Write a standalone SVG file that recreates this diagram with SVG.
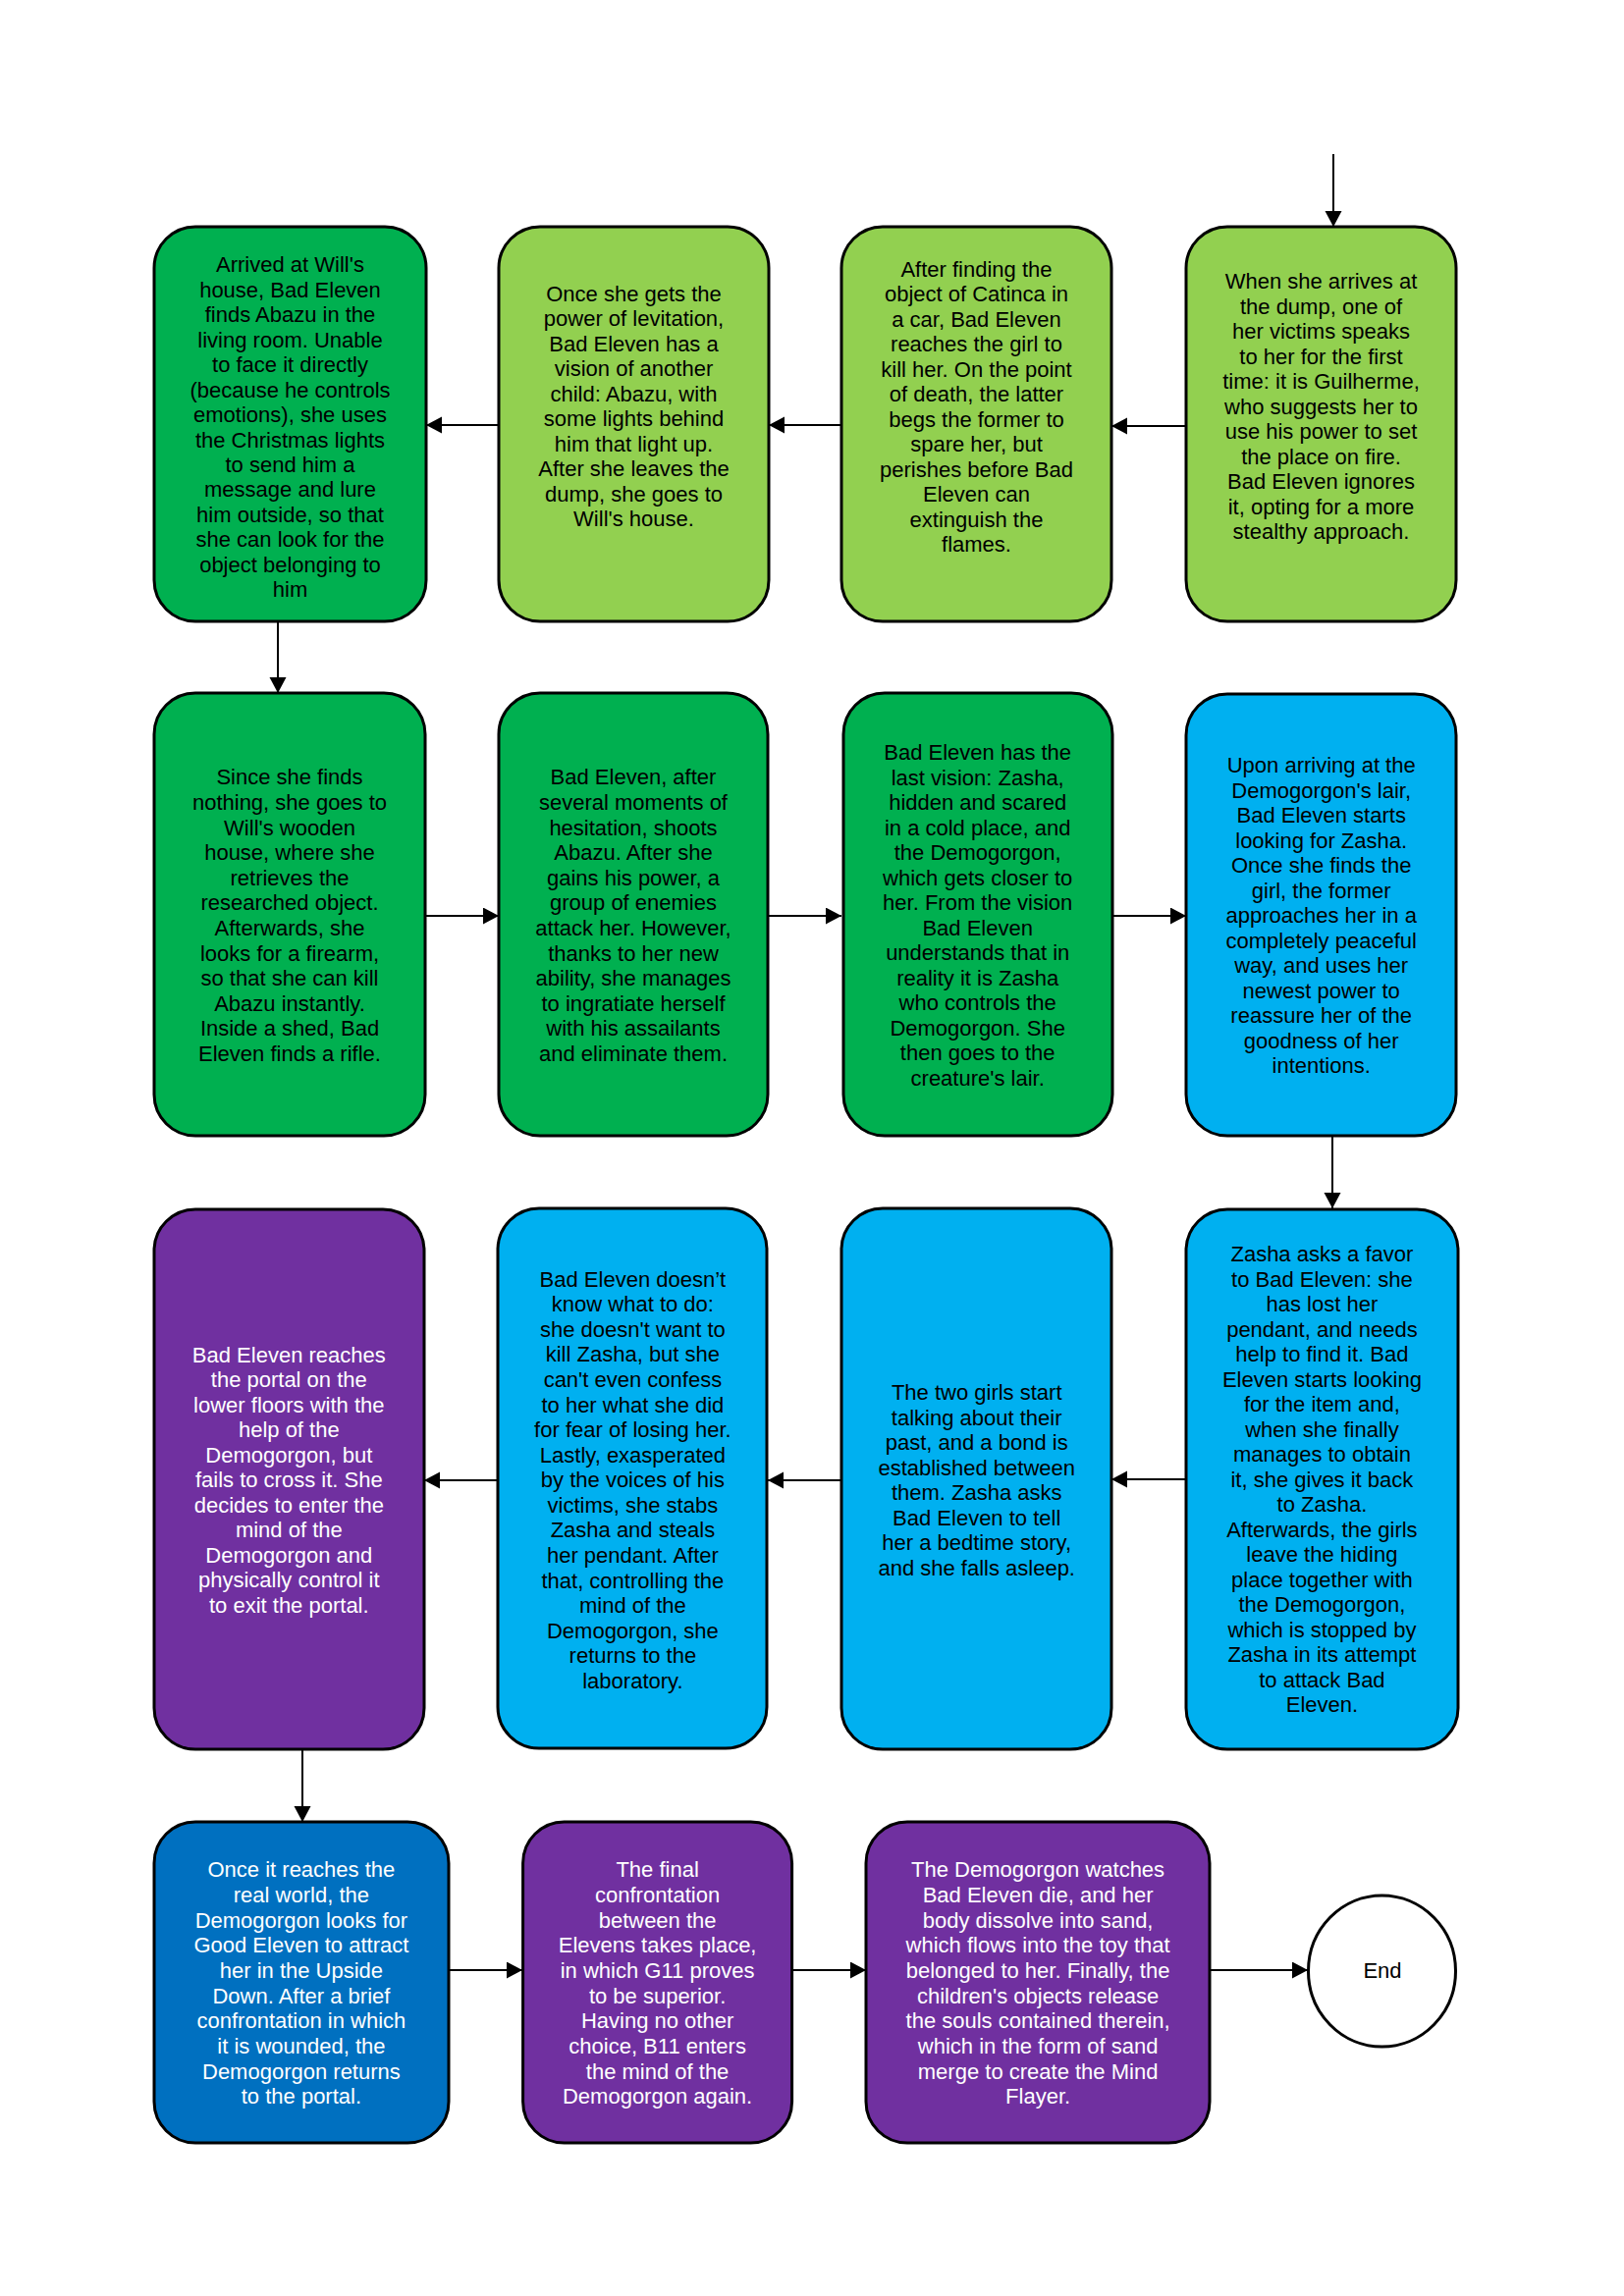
<svg xmlns="http://www.w3.org/2000/svg" width="1654" height="2339" viewBox="0 0 1654 2339">
<style>
.box{stroke:#000;stroke-width:3}
.dg{fill:#00B050}.lg{fill:#92D050}.lb{fill:#00B0F0}.pu{fill:#7030A0}.bl{fill:#0070C0}
text{font-family:"Liberation Sans",Arial,sans-serif;font-size:22px;text-anchor:middle}
.k{fill:#000}.w{fill:#fff}
.c{stroke:#000;stroke-width:2;fill:none;marker-end:url(#ah)}
</style>
<defs>
<marker id="ah" markerUnits="userSpaceOnUse" markerWidth="17" markerHeight="18" refX="16" refY="8.5" orient="auto">
<path d="M0,0 L16,8.5 L0,17 z" fill="#000"/>
</marker>
</defs>
<rect width="1654" height="2339" fill="#fff"/>
<g id="connectors">
<line class="c" x1="1358" y1="157" x2="1358" y2="231"/>
<line class="c" x1="1208" y1="434" x2="1132" y2="434"/>
<line class="c" x1="857" y1="433" x2="783" y2="433"/>
<line class="c" x1="508" y1="433" x2="434" y2="433"/>
<line class="c" x1="283" y1="633" x2="283" y2="706"/>
<line class="c" x1="434" y1="933" x2="508" y2="933"/>
<line class="c" x1="783" y1="933" x2="857" y2="933"/>
<line class="c" x1="1132" y1="933" x2="1208" y2="933"/>
<line class="c" x1="1357" y1="1157" x2="1357" y2="1231"/>
<line class="c" x1="1208" y1="1507" x2="1132" y2="1507"/>
<line class="c" x1="857" y1="1508" x2="782" y2="1508"/>
<line class="c" x1="507" y1="1508" x2="432" y2="1508"/>
<line class="c" x1="308" y1="1782" x2="308" y2="1856"/>
<line class="c" x1="457" y1="2007" x2="532" y2="2007"/>
<line class="c" x1="807" y1="2007" x2="882" y2="2007"/>
<line class="c" x1="1232" y1="2007" x2="1332" y2="2007"/>
</g>
<g id="n1">
<rect class="box dg" x="157" y="231" width="277" height="402" rx="42"/>
<text class="k" y="277.3"><tspan x="295.5">Arrived at Will's</tspan><tspan x="295.5" dy="25.46">house, Bad Eleven</tspan><tspan x="295.5" dy="25.46">finds Abazu in the</tspan><tspan x="295.5" dy="25.46">living room. Unable</tspan><tspan x="295.5" dy="25.46">to face it directly</tspan><tspan x="295.5" dy="25.46">(because he controls</tspan><tspan x="295.5" dy="25.46">emotions), she uses</tspan><tspan x="295.5" dy="25.46">the Christmas lights</tspan><tspan x="295.5" dy="25.46">to send him a</tspan><tspan x="295.5" dy="25.46">message and lure</tspan><tspan x="295.5" dy="25.46">him outside, so that</tspan><tspan x="295.5" dy="25.46">she can look for the</tspan><tspan x="295.5" dy="25.46">object belonging to</tspan><tspan x="295.5" dy="25.46">him</tspan></text>
</g>
<g id="n2">
<rect class="box lg" x="508" y="231" width="275" height="402" rx="42"/>
<text class="k" y="306.7"><tspan x="645.5">Once she gets the</tspan><tspan x="645.5" dy="25.5">power of levitation,</tspan><tspan x="645.5" dy="25.5">Bad Eleven has a</tspan><tspan x="645.5" dy="25.5">vision of another</tspan><tspan x="645.5" dy="25.5">child: Abazu, with</tspan><tspan x="645.5" dy="25.5">some lights behind</tspan><tspan x="645.5" dy="25.5">him that light up.</tspan><tspan x="645.5" dy="25.5">After she leaves the</tspan><tspan x="645.5" dy="25.5">dump, she goes to</tspan><tspan x="645.5" dy="25.5">Will's house.</tspan></text>
</g>
<g id="n3">
<rect class="box lg" x="857" y="231" width="275" height="402" rx="42"/>
<text class="k" y="281.7"><tspan x="994.5">After finding the</tspan><tspan x="994.5" dy="25.5">object of Catinca in</tspan><tspan x="994.5" dy="25.5">a car, Bad Eleven</tspan><tspan x="994.5" dy="25.5">reaches the girl to</tspan><tspan x="994.5" dy="25.5">kill her. On the point</tspan><tspan x="994.5" dy="25.5">of death, the latter</tspan><tspan x="994.5" dy="25.5">begs the former to</tspan><tspan x="994.5" dy="25.5">spare her, but</tspan><tspan x="994.5" dy="25.5">perishes before Bad</tspan><tspan x="994.5" dy="25.5">Eleven can</tspan><tspan x="994.5" dy="25.5">extinguish the</tspan><tspan x="994.5" dy="25.5">flames.</tspan></text>
</g>
<g id="n4">
<rect class="box lg" x="1208" y="231" width="275" height="402" rx="42"/>
<text class="k" y="294"><tspan x="1345.5">When she arrives at</tspan><tspan x="1345.5" dy="25.5">the dump, one of</tspan><tspan x="1345.5" dy="25.5">her victims speaks</tspan><tspan x="1345.5" dy="25.5">to her for the first</tspan><tspan x="1345.5" dy="25.5">time: it is Guilherme,</tspan><tspan x="1345.5" dy="25.5">who suggests her to</tspan><tspan x="1345.5" dy="25.5">use his power to set</tspan><tspan x="1345.5" dy="25.5">the place on fire.</tspan><tspan x="1345.5" dy="25.5">Bad Eleven ignores</tspan><tspan x="1345.5" dy="25.5">it, opting for a more</tspan><tspan x="1345.5" dy="25.5">stealthy approach.</tspan></text>
</g>
<g id="n5">
<rect class="box dg" x="157" y="706" width="276" height="451" rx="42"/>
<text class="k" y="799.3"><tspan x="295">Since she finds</tspan><tspan x="295" dy="25.6">nothing, she goes to</tspan><tspan x="295" dy="25.6">Will's wooden</tspan><tspan x="295" dy="25.6">house, where she</tspan><tspan x="295" dy="25.6">retrieves the</tspan><tspan x="295" dy="25.6">researched object.</tspan><tspan x="295" dy="25.6">Afterwards, she</tspan><tspan x="295" dy="25.6">looks for a firearm,</tspan><tspan x="295" dy="25.6">so that she can kill</tspan><tspan x="295" dy="25.6">Abazu instantly.</tspan><tspan x="295" dy="25.6">Inside a shed, Bad</tspan><tspan x="295" dy="25.6">Eleven finds a rifle.</tspan></text>
</g>
<g id="n6">
<rect class="box dg" x="508" y="706" width="274" height="451" rx="42"/>
<text class="k" y="799.3"><tspan x="645">Bad Eleven, after</tspan><tspan x="645" dy="25.6">several moments of</tspan><tspan x="645" dy="25.6">hesitation, shoots</tspan><tspan x="645" dy="25.6">Abazu. After she</tspan><tspan x="645" dy="25.6">gains his power, a</tspan><tspan x="645" dy="25.6">group of enemies</tspan><tspan x="645" dy="25.6">attack her. However,</tspan><tspan x="645" dy="25.6">thanks to her new</tspan><tspan x="645" dy="25.6">ability, she manages</tspan><tspan x="645" dy="25.6">to ingratiate herself</tspan><tspan x="645" dy="25.6">with his assailants</tspan><tspan x="645" dy="25.6">and eliminate them.</tspan></text>
</g>
<g id="n7">
<rect class="box dg" x="859" y="706" width="274" height="451" rx="42"/>
<text class="k" y="774"><tspan x="995.7">Bad Eleven has the</tspan><tspan x="995.7" dy="25.5">last vision: Zasha,</tspan><tspan x="995.7" dy="25.5">hidden and scared</tspan><tspan x="995.7" dy="25.5">in a cold place, and</tspan><tspan x="995.7" dy="25.5">the Demogorgon,</tspan><tspan x="995.7" dy="25.5">which gets closer to</tspan><tspan x="995.7" dy="25.5">her. From the vision</tspan><tspan x="995.7" dy="25.5">Bad Eleven</tspan><tspan x="995.7" dy="25.5">understands that in</tspan><tspan x="995.7" dy="25.5">reality it is Zasha</tspan><tspan x="995.7" dy="25.5">who controls the</tspan><tspan x="995.7" dy="25.5">Demogorgon. She</tspan><tspan x="995.7" dy="25.5">then goes to the</tspan><tspan x="995.7" dy="25.5">creature's lair.</tspan></text>
</g>
<g id="n8">
<rect class="box lb" x="1208" y="707" width="275" height="450" rx="42"/>
<text class="k" y="787.3"><tspan x="1345.7">Upon arriving at the</tspan><tspan x="1345.7" dy="25.5">Demogorgon's lair,</tspan><tspan x="1345.7" dy="25.5">Bad Eleven starts</tspan><tspan x="1345.7" dy="25.5">looking for Zasha.</tspan><tspan x="1345.7" dy="25.5">Once she finds the</tspan><tspan x="1345.7" dy="25.5">girl, the former</tspan><tspan x="1345.7" dy="25.5">approaches her in a</tspan><tspan x="1345.7" dy="25.5">completely peaceful</tspan><tspan x="1345.7" dy="25.5">way, and uses her</tspan><tspan x="1345.7" dy="25.5">newest power to</tspan><tspan x="1345.7" dy="25.5">reassure her of the</tspan><tspan x="1345.7" dy="25.5">goodness of her</tspan><tspan x="1345.7" dy="25.5">intentions.</tspan></text>
</g>
<g id="n9">
<rect class="box pu" x="157" y="1232" width="275" height="550" rx="42"/>
<text class="w" y="1387.6"><tspan x="294.3">Bad Eleven reaches</tspan><tspan x="294.3" dy="25.5">the portal on the</tspan><tspan x="294.3" dy="25.5">lower floors with the</tspan><tspan x="294.3" dy="25.5">help of the</tspan><tspan x="294.3" dy="25.5">Demogorgon, but</tspan><tspan x="294.3" dy="25.5">fails to cross it. She</tspan><tspan x="294.3" dy="25.5">decides to enter the</tspan><tspan x="294.3" dy="25.5">mind of the</tspan><tspan x="294.3" dy="25.5">Demogorgon and</tspan><tspan x="294.3" dy="25.5">physically control it</tspan><tspan x="294.3" dy="25.5">to exit the portal.</tspan></text>
</g>
<g id="n10">
<rect class="box lb" x="507" y="1231" width="274" height="550" rx="42"/>
<text class="k" y="1310.8"><tspan x="644.4">Bad Eleven doesn’t</tspan><tspan x="644.4" dy="25.56">know what to do:</tspan><tspan x="644.4" dy="25.56">she doesn't want to</tspan><tspan x="644.4" dy="25.56">kill Zasha, but she</tspan><tspan x="644.4" dy="25.56">can't even confess</tspan><tspan x="644.4" dy="25.56">to her what she did</tspan><tspan x="644.4" dy="25.56">for fear of losing her.</tspan><tspan x="644.4" dy="25.56">Lastly, exasperated</tspan><tspan x="644.4" dy="25.56">by the voices of his</tspan><tspan x="644.4" dy="25.56">victims, she stabs</tspan><tspan x="644.4" dy="25.56">Zasha and steals</tspan><tspan x="644.4" dy="25.56">her pendant. After</tspan><tspan x="644.4" dy="25.56">that, controlling the</tspan><tspan x="644.4" dy="25.56">mind of the</tspan><tspan x="644.4" dy="25.56">Demogorgon, she</tspan><tspan x="644.4" dy="25.56">returns to the</tspan><tspan x="644.4" dy="25.56">laboratory.</tspan></text>
</g>
<g id="n11">
<rect class="box lb" x="857" y="1231" width="275" height="551" rx="42"/>
<text class="k" y="1426.3"><tspan x="994.7">The two girls start</tspan><tspan x="994.7" dy="25.5">talking about their</tspan><tspan x="994.7" dy="25.5">past, and a bond is</tspan><tspan x="994.7" dy="25.5">established between</tspan><tspan x="994.7" dy="25.5">them. Zasha asks</tspan><tspan x="994.7" dy="25.5">Bad Eleven to tell</tspan><tspan x="994.7" dy="25.5">her a bedtime story,</tspan><tspan x="994.7" dy="25.5">and she falls asleep.</tspan></text>
</g>
<g id="n12">
<rect class="box lb" x="1208" y="1232" width="277" height="550" rx="42"/>
<text class="k" y="1285.2"><tspan x="1346.4">Zasha asks a favor</tspan><tspan x="1346.4" dy="25.5">to Bad Eleven: she</tspan><tspan x="1346.4" dy="25.5">has lost her</tspan><tspan x="1346.4" dy="25.5">pendant, and needs</tspan><tspan x="1346.4" dy="25.5">help to find it. Bad</tspan><tspan x="1346.4" dy="25.5">Eleven starts looking</tspan><tspan x="1346.4" dy="25.5">for the item and,</tspan><tspan x="1346.4" dy="25.5">when she finally</tspan><tspan x="1346.4" dy="25.5">manages to obtain</tspan><tspan x="1346.4" dy="25.5">it, she gives it back</tspan><tspan x="1346.4" dy="25.5">to Zasha.</tspan><tspan x="1346.4" dy="25.5">Afterwards, the girls</tspan><tspan x="1346.4" dy="25.5">leave the hiding</tspan><tspan x="1346.4" dy="25.5">place together with</tspan><tspan x="1346.4" dy="25.5">the Demogorgon,</tspan><tspan x="1346.4" dy="25.5">which is stopped by</tspan><tspan x="1346.4" dy="25.5">Zasha in its attempt</tspan><tspan x="1346.4" dy="25.5">to attack Bad</tspan><tspan x="1346.4" dy="25.5">Eleven.</tspan></text>
</g>
<g id="n13">
<rect class="box bl" x="157" y="1856" width="300" height="327" rx="42"/>
<text class="w" y="1912.3"><tspan x="306.9">Once it reaches the</tspan><tspan x="306.9" dy="25.67">real world, the</tspan><tspan x="306.9" dy="25.67">Demogorgon looks for</tspan><tspan x="306.9" dy="25.67">Good Eleven to attract</tspan><tspan x="306.9" dy="25.67">her in the Upside</tspan><tspan x="306.9" dy="25.67">Down. After a brief</tspan><tspan x="306.9" dy="25.67">confrontation in which</tspan><tspan x="306.9" dy="25.67">it is wounded, the</tspan><tspan x="306.9" dy="25.67">Demogorgon returns</tspan><tspan x="306.9" dy="25.67">to the portal.</tspan></text>
</g>
<g id="n14">
<rect class="box pu" x="532.6" y="1856" width="274" height="327" rx="42"/>
<text class="w" y="1912.3"><tspan x="669.6">The final</tspan><tspan x="669.6" dy="25.67">confrontation</tspan><tspan x="669.6" dy="25.67">between the</tspan><tspan x="669.6" dy="25.67">Elevens takes place,</tspan><tspan x="669.6" dy="25.67">in which G11 proves</tspan><tspan x="669.6" dy="25.67">to be superior.</tspan><tspan x="669.6" dy="25.67">Having no other</tspan><tspan x="669.6" dy="25.67">choice, B11 enters</tspan><tspan x="669.6" dy="25.67">the mind of the</tspan><tspan x="669.6" dy="25.67">Demogorgon again.</tspan></text>
</g>
<g id="n15">
<rect class="box pu" x="882" y="1856" width="350" height="327" rx="42"/>
<text class="w" y="1912.3"><tspan x="1057.1">The Demogorgon watches</tspan><tspan x="1057.1" dy="25.67">Bad Eleven die, and her</tspan><tspan x="1057.1" dy="25.67">body dissolve into sand,</tspan><tspan x="1057.1" dy="25.67">which flows into the toy that</tspan><tspan x="1057.1" dy="25.67">belonged to her. Finally, the</tspan><tspan x="1057.1" dy="25.67">children's objects release</tspan><tspan x="1057.1" dy="25.67">the souls contained therein,</tspan><tspan x="1057.1" dy="25.67">which in the form of sand</tspan><tspan x="1057.1" dy="25.67">merge to create the Mind</tspan><tspan x="1057.1" dy="25.67">Flayer.</tspan></text>
</g>
<g id="end">
<ellipse cx="1407.5" cy="2008" rx="75" ry="77" fill="#fff" stroke="#000" stroke-width="3"/>
<text class="k" x="1408" y="2015">End</text>
</g>
</svg>
